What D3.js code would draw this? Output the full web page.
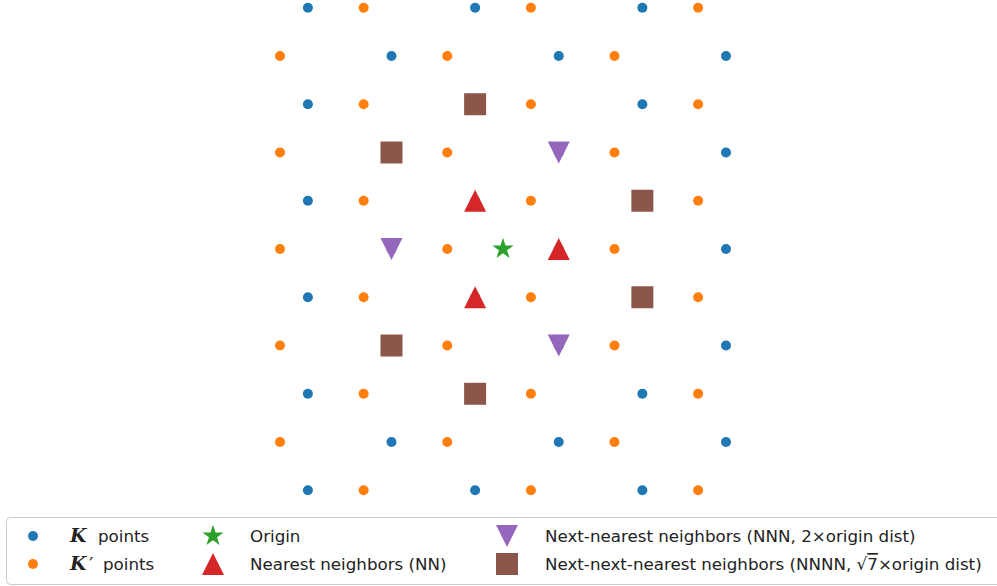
<!DOCTYPE html>
<html>
<head>
<meta charset="utf-8">
<script src="https://cdn.jsdelivr.net/npm/d3@7"></script>
<style>
  html, body { margin: 0; padding: 0; background: #fff; }
  svg { display: block; }
</style>
</head>
<body>
<svg id="chart" width="997" height="586"></svg>
<script>
// ---- Data (lattice coordinates, nearest-neighbour distance = 1) ----
const kPoints = [
  [-3.5, 4.330], [-0.5, 4.330], [2.5, 4.330],
  [-2, 3.464], [1, 3.464], [4, 3.464],
  [-3.5, 2.598], [-0.5, 2.598], [2.5, 2.598],
  [-2, 1.732], [1, 1.732], [4, 1.732],
  [-3.5, 0.866], [-0.5, 0.866], [2.5, 0.866],
  [-2, 0], [1, 0], [4, 0],
  [-3.5, -0.866], [-0.5, -0.866], [2.5, -0.866],
  [-2, -1.732], [1, -1.732], [4, -1.732],
  [-3.5, -2.598], [-0.5, -2.598], [2.5, -2.598],
  [-2, -3.464], [1, -3.464], [4, -3.464],
  [-3.5, -4.330], [-0.5, -4.330], [2.5, -4.330]
];
const kPrimePoints = [
  [-2.5, 4.330], [0.5, 4.330], [3.5, 4.330],
  [-4, 3.464], [-1, 3.464], [2, 3.464],
  [-2.5, 2.598], [0.5, 2.598], [3.5, 2.598],
  [-4, 1.732], [-1, 1.732], [2, 1.732],
  [-2.5, 0.866], [0.5, 0.866], [3.5, 0.866],
  [-4, 0], [-1, 0], [2, 0],
  [-2.5, -0.866], [0.5, -0.866], [3.5, -0.866],
  [-4, -1.732], [-1, -1.732], [2, -1.732],
  [-2.5, -2.598], [0.5, -2.598], [3.5, -2.598],
  [-4, -3.464], [-1, -3.464], [2, -3.464],
  [-2.5, -4.330], [0.5, -4.330], [3.5, -4.330]
];
const origin = [[0, 0]];
const nearest = [[1, 0], [-0.5, 0.866], [-0.5, -0.866]];
const nextNearest = [[-2, 0], [1, 1.732], [1, -1.732]];
const nextNextNearest = [[-0.5, 2.598], [-2, 1.732], [2.5, 0.866], [2.5, -0.866], [-2, -1.732], [-0.5, -2.598]];

const colors = {
  k: "#1f77b4", kp: "#ff7f0e", origin: "#2ca02c",
  nn: "#d62728", nnn: "#9467bd", nnnn: "#8c564b"
};

// ---- Scales ----
const x = d3.scaleLinear().domain([-4, 4]).range([280, 726]);
const y = d3.scaleLinear().domain([-4.330, 4.330]).range([490.3, 7.7]);

const svg = d3.select("#chart");

// marker shapes
const shapes = {
  circle: r => d3.symbol().type(d3.symbolCircle).size(Math.PI * r * r)(),
  star: r => d3.symbol().type(d3.symbolStar).size(r)(),
  triUp: s => `M0,${-s}L${s},${s}L${-s},${s}Z`,
  triDown: s => `M0,${s}L${s},${-s}L${-s},${-s}Z`,
  square: s => `M${-s},${-s}H${s}V${s}H${-s}Z`
};

function drawSet(data, path, color) {
  svg.append("g").selectAll("path").data(data).join("path")
    .attr("d", path)
    .attr("transform", d => `translate(${x(d[0])},${y(d[1])})`)
    .attr("fill", color);
}

drawSet(kPoints, shapes.circle(5), colors.k);
drawSet(kPrimePoints, shapes.circle(5), colors.kp);
drawSet(origin, shapes.star(140), colors.origin);
drawSet(nearest, shapes.triUp(11), colors.nn);
drawSet(nextNearest, shapes.triDown(11), colors.nnn);
drawSet(nextNextNearest, shapes.square(11), colors.nnnn);

// ---- Legend ----
const lg = svg.append("g");
lg.append("rect")
  .attr("x", 6.5).attr("y", 517.5).attr("width", 1000).attr("height", 67)
  .attr("rx", 4).attr("fill", "#fff").attr("fill-opacity", 0.8)
  .attr("stroke", "#cccccc").attr("stroke-width", 1);

const legendItems = [
  { mx: 33, tx: 70, row: 0, path: shapes.circle(5), color: colors.k, label: "k" },
  { mx: 33, tx: 70, row: 1, path: shapes.circle(5), color: colors.kp, label: "kp" },
  { mx: 213, tx: 250, row: 0, path: shapes.star(140), color: colors.origin, label: "Origin" },
  { mx: 213, tx: 250, row: 1, path: shapes.triUp(11), color: colors.nn, label: "Nearest neighbors (NN)" },
  { mx: 507, tx: 545, row: 0, path: shapes.triDown(11), color: colors.nnn, label: "Next-nearest neighbors (NNN, 2×origin dist)" },
  { mx: 507, tx: 545, row: 1, path: shapes.square(11), color: colors.nnnn, label: "nnnn" }
];
const rowY = [536, 564];
const fontMain = "DejaVu Sans, sans-serif";

legendItems.forEach(it => {
  const cy = rowY[it.row];
  lg.append("path").attr("d", it.path)
    .attr("transform", `translate(${it.mx},${cy})`)
    .attr("fill", it.color);
  if (it.label === "k" || it.label === "kp") {
    lg.append("text")
      .attr("x", it.tx).attr("y", cy + 6)
      .attr("font-family", "DejaVu Serif, serif")
      .attr("font-size", 19)
      .attr("font-weight", "bold").attr("font-style", "italic")
      .attr("fill", "#222").text("K");
    if (it.label === "kp") {
      lg.append("text")
        .attr("x", 89).attr("y", cy + 8)
        .attr("font-family", "DejaVu Serif, serif")
        .attr("font-size", 20)
        .attr("fill", "#222").text("′");
    }
    lg.append("text")
      .attr("x", it.label === "kp" ? 103 : 98).attr("y", cy + 6)
      .attr("font-family", fontMain).attr("font-size", 16.7)
      .attr("fill", "#222").text("points");
    return;
  }
  const t = lg.append("text")
    .attr("x", it.tx).attr("y", cy + 6)
    .attr("font-family", fontMain)
    .attr("font-size", 16.7)
    .attr("fill", "#222");
  if (it.label === "nnnn") {
    t.append("tspan").text("Next-next-nearest neighbors (NNNN, √");
    t.append("tspan").text("7").attr("text-decoration", "overline");
    t.append("tspan").text("×origin dist)");
  } else {
    t.text(it.label);
  }
});
</script>
</body>
</html>
